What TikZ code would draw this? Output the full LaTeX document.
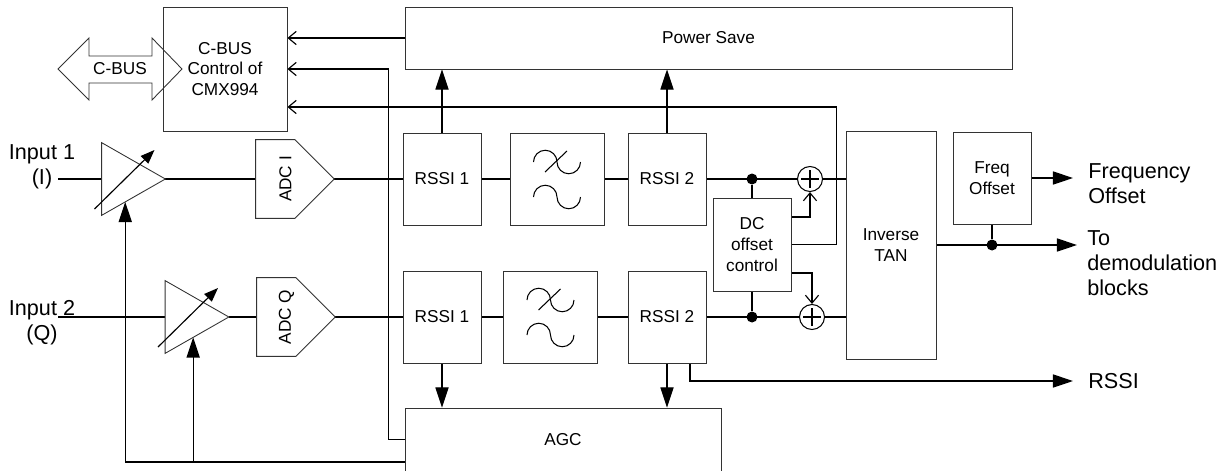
\documentclass[tikz,border=0pt]{standalone}
\usepackage{fontspec}
\setmainfont{Liberation Sans}
\usetikzlibrary{arrows.meta,calc}
\pgfdeclarelayer{background}
\pgfsetlayers{background,main}
\tikzset{
  blk/.style={draw=black!80,line width=0.5pt,inner sep=1pt,align=center,
    font=\fontsize{9.8}{11.8}\selectfont},
  conn/.style={line width=0.65pt},
  fat/.style={-{Triangle[length=11.5pt,width=7.5pt]}},
  barb/.style={-{Straight Barb[length=4.5pt,width=7.5pt]}},
  dot/.style={circle,fill=black,inner sep=0,minimum size=0.22cm},
  outer/.style={inner sep=0,font=\fontsize{12.3}{14.2}\selectfont}
}
\newcommand{\Block}[5]% pos, name, width, height, text
{\node[blk,minimum width={#3*0.02cm},minimum height={#4*0.02cm}] (#2) at (#1) {#5};
}
\newcommand{\Amp}[2]% pos, name
{\node[minimum width=1.26cm,minimum height=1.44cm,inner sep=0] (#2) at (#1) {};
  \draw[blk] (#2.north west) -- (#2.east) -- (#2.south west) -- cycle;
  \draw[conn,-{Triangle[length=8pt,width=6pt]}] ($(#2.center)+(-39,30)$) -- ($(#2.center)+(21,-29)$);
}
\newcommand{\Adc}[3]% pos, name, text
{\node[minimum size=1.56cm,inner sep=0] (#2) at (#1) {};
  \draw[blk] (#2.north west) -- (#2.north) -- (#2.east) -- (#2.south) -- (#2.south west) -- cycle;
  \node[blk,draw=none,rotate=90] (#2-txt) at ($(#2.center)+(-9.5,0)$) {#3};
}
\newcommand{\Filter}[2]% pos, name
{\node[blk,minimum width=1.88cm,minimum height=1.84cm] (#2) at (#1) {};
  \draw[line width=0.6pt] ($(#2)+(-23.5,-17)$) arc[start angle=180,end angle=360,radius=11.75]
    arc[start angle=180,end angle=0,radius=11.75];
  \draw[line width=0.6pt] ($(#2)+(-23.5,18)$) arc[start angle=180,end angle=360,radius=11.75]
    arc[start angle=180,end angle=0,radius=11.75];
  \draw[line width=0.6pt] ($(#2)+(-12,-7)$) -- ($(#2)+(10,-28)$);
}
\newcommand{\Sum}[2]% pos, name
{\node[circle,draw=black,line width=0.6pt,minimum size=0.5cm,inner sep=0] (#2) at (#1) {};
  \draw[line width=0.6pt] ($(#2)+(-9,0)$) -- ($(#2)+(9,0)$) ($(#2)+(0,-9)$) -- ($(#2)+(0,9)$);
}

\begin{document}
\begin{tikzpicture}[x=0.02cm,y=-0.02cm]
  \useasboundingbox (0,0) rectangle (1227,470);
  \Block{225,69}{cbus}{124}{124}{C-BUS\\Control of\\CMX994}
  \Block{708.5,38}{psave}{607}{62}{Power Save}
  \Block{442,179}{rssiIa}{78}{92}{RSSI 1}
  \Filter{557,179}{lpfI}
  \Block{667,179}{rssiIb}{78}{92}{RSSI 2}
  \Block{442,317}{rssiQa}{78}{92}{RSSI 1}
  \Filter{550.5,317}{lpfQ}
  \Block{667,317}{rssiQb}{78}{92}{RSSI 2}
  \Block{752,244.5}{dcoff}{78}{93}{DC\\offset\\control}
  \Block{891,245}{itan}{90}{228}{Inverse\\TAN}
  \Block{992,178}{freq}{78}{92}{Freq\\Offset}
  \Block{563,439.5}{agc}{316}{63}{AGC}
  \Amp{133.5,179}{ampI}
  \Amp{197,317}{ampQ}
  \Adc{295,179}{adcI}{ADC I}
  \Adc{296,317}{adcQ}{ADC Q}
  \Sum{810,179}{sumI}
  \Sum{812,317}{sumQ}
  \node[dot] (jI) at (dcoff.north |- rssiIb.east) {};
  \node[dot] (jQ) at (dcoff.south |- rssiQb.east) {};
  \node[dot] (jF) at (freq.south |- itan.east) {};
  % bus arrow
  \node[blk,draw=none] (cbusarr) at (120,69) {C-BUS};
  \draw[blk] ($(cbusarr)+(-62,0)$) -- ++(31,-31) -- ++(0,18) -- ++(63,0) -- ++(0,-18)
    -- ++(30,31) -- ++(-30,31) -- ++(0,-17) -- ++(-63,0) -- ++(0,17) -- cycle;
  % labels
  \node[outer,align=center] (in1) at (42,167) {Input 1\\(I)};
  \node[outer,align=center] (in2) at (42,323) {Input 2\\(Q)};
  \node[outer,align=left,anchor=west] (fotxt) at (1088,184) {Frequency\\Offset};
  \node[outer,align=left,anchor=west] (demodtxt) at (1087,263) {To\\demodulation\\blocks};
  \node[outer,anchor=west] (rstxt) at (1088,381) {RSSI};
  \coordinate (in1e) at (58,179);
  \coordinate (in2e) at (58,317);
  \coordinate (fo) at (1073,178);
  \coordinate (demod) at (1077,245);
  \coordinate (rs) at (1073,381);
  \coordinate (fb) at ($(agc.west)+(0,22.5)$);
  \coordinate (ctlI) at ($(ampI.south west)!0.37!(ampI.east)$);
  \coordinate (ctlQ) at ($(ampQ.south west)!0.44!(ampQ.east)$);
  \begin{pgfonlayer}{background}
    % I path
    \draw[conn] (in1e) -- (ampI.west);
    \draw[conn] (ampI.east) -- (adcI.west);
    \draw[conn] (adcI.east) -- (rssiIa.west);
    \draw[conn] (rssiIa.east) -- (lpfI.west);
    \draw[conn] (lpfI.east) -- (rssiIb.west);
    \draw[conn] (rssiIb.east) -- (sumI.west);
    \draw[conn] (sumI.east) -- (sumI -| itan.west);
    % Q path
    \draw[conn] (in2e) -- (ampQ.west);
    \draw[conn] (ampQ.east) -- (adcQ.west);
    \draw[conn] (adcQ.east) -- (rssiQa.west);
    \draw[conn] (rssiQa.east) -- (lpfQ.west);
    \draw[conn] (lpfQ.east) -- (rssiQb.west);
    \draw[conn] (rssiQb.east) -- (sumQ.west);
    \draw[conn] (sumQ.east) -- (sumQ -| itan.west);
    % dc offset
    \draw[conn] (jI) -- (dcoff.north);
    \draw[conn] (jQ) -- (dcoff.south);
    \draw[conn,barb] ($(dcoff.east)+(0,-27.5)$) -| (sumI.south);
    \draw[conn,barb] ($(dcoff.east)+(0,28.5)$) -| (sumQ.north);
    \draw[conn,barb] (dcoff.east) -- ++(45,0) |- ($(cbus.east)+(0,38)$);
    % power save and agc
    \draw[conn,barb] (psave.west) -- (cbus.east |- psave.west);
    \draw[conn,fat] (rssiIa.north) -- (rssiIa.north |- psave.south);
    \draw[conn,fat] (rssiIb.north) -- (rssiIb.north |- psave.south);
    \draw[conn,fat] (rssiQa.south) -- (rssiQa.south |- agc.north);
    \draw[conn,fat] (rssiQb.south) -- (rssiQb.south |- agc.north);
    \draw[conn,barb] (agc.west) -- ++(-16,0) |- (cbus.east);
    \draw[conn,fat] (fb) -| (ctlI);
    \draw[conn,fat] (fb -| ctlQ) -- (ctlQ);
    % outputs
    \draw[conn,fat] (freq.east) -- (fo);
    \draw[conn,fat] (itan.east) -- (demod);
    \draw[conn] (freq.south) -- (jF);
    \draw[conn,fat] ($(rssiQb.south)+(23,0)$) |- (rs);
  \end{pgfonlayer}
\end{tikzpicture}
\end{document}
